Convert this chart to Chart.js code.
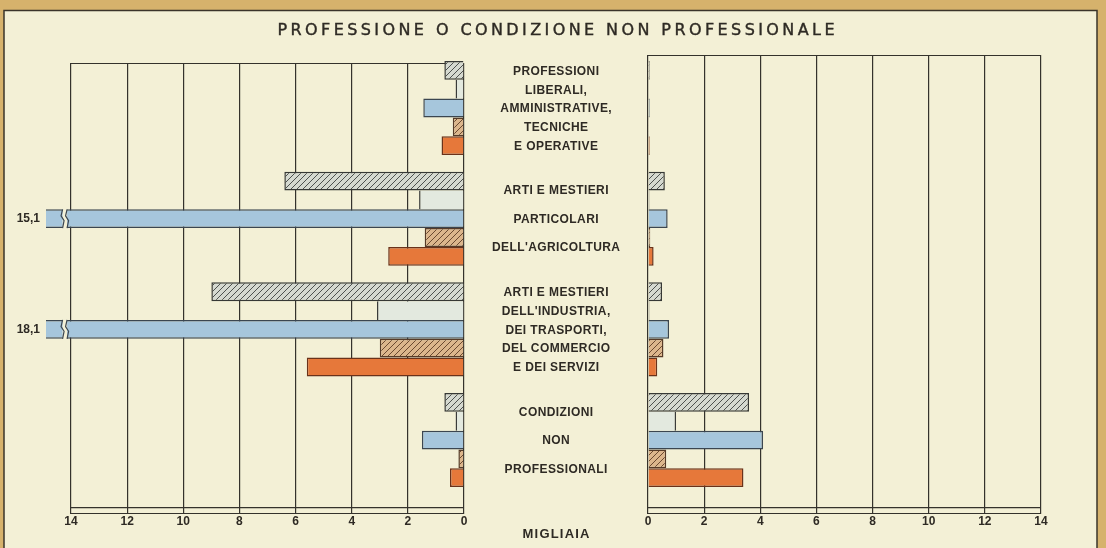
<!DOCTYPE html>
<html>
<head>
<meta charset="utf-8">
<script src="https://cdn.jsdelivr.net/npm/chart.js@4.4.0/dist/chart.umd.min.js"></script>
<style>
html,body{margin:0;padding:0;background:#d6b26c;}
#wrap{position:relative;width:1106px;height:548px;}
#wrap canvas{position:absolute;left:0;top:0;}
</style>
</head>
<body>
<div id="wrap">
  <canvas id="leftChart" width="1106" height="548"></canvas>
  <canvas id="rightChart" width="1106" height="548"></canvas>
</div>
<script>
// categories (centre labels, one array of lines per group)
const groups = [
  ['PROFESSIONI', 'LIBERALI,', 'AMMINISTRATIVE,', 'TECNICHE', 'E OPERATIVE'],
  ['ARTI E MESTIERI', 'PARTICOLARI', "DELL'AGRICOLTURA"],
  ['ARTI E MESTIERI', "DELL'INDUSTRIA,", 'DEI TRASPORTI,', 'DEL COMMERCIO', 'E DEI SERVIZI'],
  ['CONDIZIONI', 'NON', 'PROFESSIONALI']
];
const xTicks = [0, 2, 4, 6, 8, 10, 12, 14];
const title = 'PROFESSIONE O CONDIZIONE NON PROFESSIONALE';
const unitLabel = 'MIGLIAIA';

// left panel (migliaia), five series per group
const leftGray   = [0.7, 6.4, 9.0, 0.7];
const leftPale   = [0.3, 1.6, 3.1, 0.3];
const leftBlue   = [1.45, 15.1, 18.1, 1.5];
const leftTan    = [0.4, 1.4, 3.0, 0.2];
const leftOrange = [0.8, 2.7, 5.6, 0.5];

// right panel
const rightGray   = [0.06, 0.6, 0.5, 3.6];
const rightPale   = [0.03, 0.05, 0.05, 1.0];
const rightBlue   = [0.06, 0.7, 0.75, 4.1];
const rightTan    = [0.03, 0.08, 0.55, 0.65];
const rightOrange = [0.06, 0.2, 0.33, 3.4];

const ink = '#2e2a24';
const cream = '#f3f0d6';

function hatch(bg, fg){
  const c = document.createElement('canvas');
  c.width = 6; c.height = 6;
  const g = c.getContext('2d');
  g.fillStyle = bg; g.fillRect(0,0,6,6);
  g.strokeStyle = fg; g.lineWidth = 1;
  g.beginPath();
  g.moveTo(-1,7); g.lineTo(7,-1);
  g.moveTo(-4,4); g.lineTo(4,-4);
  g.moveTo(2,10); g.lineTo(10,2);
  g.stroke();
  return g.createPattern(c, 'repeat');
}

const styles = [
  {bg: hatch('#d5d9d0','#4d514e'), bd:'#363835', bw:1.5},
  {bg:'#e3e9df', bd:'#3a3c3a', bw:'edge'},
  {bg:'#a6c6dc', bd:'#3b4650', bw:1.5},
  {bg: hatch('#dcb68c','#6b4a31'), bd:'#563b28', bw:1.5},
  {bg:'#e6783a', bd:'#6a321a', bw:1.5}
];

function makeSets(series, side){
  return series.map((vals, k) => {
    const s = styles[k];
    let bw = s.bw;
    if (bw === 'edge') bw = side === 'left' ? {left:1.5, right:0, top:0, bottom:0} : {right:1.5, left:0, top:0, bottom:0};
    return {
      data: vals.map((v, i) => ({x: v, y: i})),
      backgroundColor: s.bg,
      borderColor: s.bd,
      borderWidth: bw,
      borderSkipped: 'start',
      categoryPercentage: 0.85,
      barPercentage: 1.0,
      clip: {left: 25, top: 10, right: 0, bottom: 0}
    };
  });
}

function drawSpaced(ctx, text, x, y, spacing, stroke){
  ctx.letterSpacing = spacing + 'px';
  const w = ctx.measureText(text).width - spacing;
  ctx.textAlign = 'left';
  ctx.fillText(text, x - w/2, y);
  if (stroke) ctx.strokeText(text, x - w/2, y);
  ctx.letterSpacing = '0px';
}

// frame of each panel: top line and double bottom line
const panelFrame = {
  id:'panelFrame',
  beforeDatasetsDraw(chart){
    const {ctx, chartArea:a} = chart;
    const ys = chart.scales.y;
    ctx.save();
    ctx.strokeStyle = '#34322c';
    ctx.lineWidth = 1.2;
    ctx.beginPath();
    ctx.moveTo(a.left, a.top + 0.5); ctx.lineTo(a.right, a.top + 0.5);
    ctx.moveTo(a.left, a.bottom - 0.5); ctx.lineTo(a.right, a.bottom - 0.5);
    const inner = ys.getPixelForValue(3.61);
    ctx.moveTo(a.left, inner); ctx.lineTo(a.right, inner);
    ctx.stroke();
    ctx.restore();
  }
};

const paper = {
  id:'paper',
  beforeDraw(chart){
    const ctx = chart.ctx;
    ctx.save();
    ctx.fillStyle = '#d6b26c';
    ctx.fillRect(0,0,chart.width,chart.height);
    ctx.fillStyle = cream;
    ctx.fillRect(4,10,1093,538);
    ctx.strokeStyle = '#3a342a';
    ctx.lineWidth = 1.5;
    ctx.beginPath();
    ctx.moveTo(4,548); ctx.lineTo(4,10.5); ctx.lineTo(1097,10.5); ctx.lineTo(1097,548);
    ctx.stroke();
    // title
    ctx.fillStyle = ink;
    ctx.strokeStyle = ink;
    ctx.lineWidth = 0.4;
    ctx.font = '16px "DejaVu Sans"';
    ctx.textBaseline = 'middle';
    const plain = ctx.measureText(title).width;
    const sp = (557 - plain) / (title.length - 1);
    drawSpaced(ctx, title, 556, 31, sp, true);
    ctx.restore();
  },
  afterDraw(chart){
    const ctx = chart.ctx;
    const ys = chart.scales.y;
    ctx.save();
    ctx.fillStyle = ink;
    ctx.font = 'bold 12px "Liberation Sans"';
    ctx.textBaseline = 'middle';
    groups.forEach((lines, i) => {
      const c = ys.getPixelForValue(i);
      const gap = lines.length === 5 ? 18.7 : 28.5;
      lines.forEach((t, j) => {
        drawSpaced(ctx, t, 556, c + 1 + (j - (lines.length - 1)/2) * gap, 0.4);
      });
    });
    ctx.font = 'bold 13px "Liberation Sans"';
    drawSpaced(ctx, unitLabel, 556, 534, 1.2);
    ctx.restore();
  },
  afterDatasetsDraw(chart){
    // broken bars for values beyond the axis
    const ctx = chart.ctx;
    const xs = chart.scales.x;
    const meta = chart.getDatasetMeta(2);
    ctx.save();
    meta.data.forEach((el, i) => {
      const v = leftBlue[i];
      if (v <= xs.max) return;
      const h = el.height;
      const top = el.y - h/2, bot = el.y + h/2;
      const a = xs.getPixelForValue(14.3), b = xs.getPixelForValue(14.14);
      ctx.fillStyle = cream;
      ctx.fillRect(a, top - 1, b - a, h + 2);
      ctx.strokeStyle = '#3b4650';
      ctx.lineWidth = 1.2;
      [a, b].forEach(x => {
        ctx.beginPath();
        ctx.moveTo(x, top);
        ctx.lineTo(x - 1.5, top + h*0.35);
        ctx.lineTo(x + 1.5, top + h*0.6);
        ctx.lineTo(x, bot);
        ctx.stroke();
      });
      ctx.fillStyle = ink;
      ctx.font = 'bold 12px "Liberation Sans"';
      ctx.textAlign = 'right';
      ctx.textBaseline = 'middle';
      ctx.fillText(String(v).replace('.', ','), chart.chartArea.left - 31, el.y);
    });
    ctx.restore();
  }
};

function panelOptions(side){
  const left = side === 'left';
  return {
    responsive:false,
    animation:false,
    indexAxis:'y',
    layout:{padding: left ? {left:71, right:642, top:63, bottom:19.6} : {left:648, right:65, top:55, bottom:19.6}},
    plugins:{legend:{display:false}, tooltip:{enabled:false}},
    scales:{
      x:{
        type:'linear', min:0, max:14, reverse:left,
        afterBuildTicks: s => { s.ticks = xTicks.map(v => ({value:v})); },
        ticks:{color:ink, font:{family:'"Liberation Sans"', size:12, weight:'bold'}, padding:0, maxRotation:0},
        grid:{color:'#34322c', lineWidth:1.2, drawTicks:false},
        border:{display:false}
      },
      y:{
        type:'linear', reverse:true, offset:false,
        min: left ? -0.4065 : -0.479, max: 3.668,
        afterBuildTicks: s => { s.ticks = groups.map((g, i) => ({value:i})); },
        display:false
      }
    }
  };
}

new Chart(document.getElementById('leftChart'), {
  type:'bar',
  data:{datasets: makeSets([leftGray, leftPale, leftBlue, leftTan, leftOrange], 'left')},
  options: panelOptions('left'),
  plugins:[paper, panelFrame]
});

new Chart(document.getElementById('rightChart'), {
  type:'bar',
  data:{datasets: makeSets([rightGray, rightPale, rightBlue, rightTan, rightOrange], 'right')},
  options: panelOptions('right'),
  plugins:[panelFrame]
});
</script>
</body>
</html>
